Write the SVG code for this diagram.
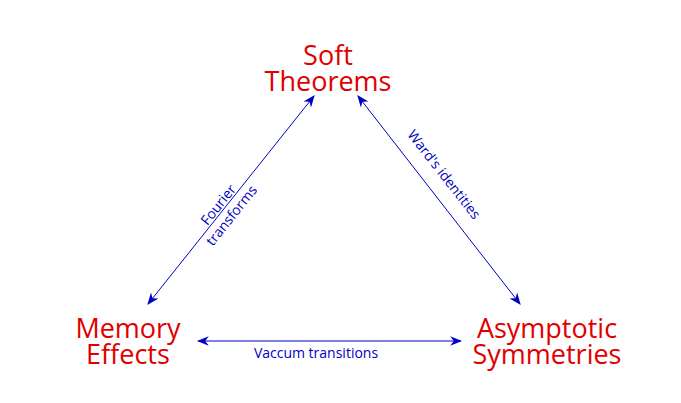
<svg xmlns="http://www.w3.org/2000/svg" width="681" height="403" viewBox="0 0 681 403">
<style>
.n{font-family:"Open Sans","DejaVu Sans",sans-serif;font-size:27px;fill:#e00000;text-anchor:middle}
.l{font-family:"Open Sans","DejaVu Sans",sans-serif;font-size:14px;fill:#0000c0;text-anchor:middle}
.c{stroke:#0000c0;stroke-width:1;fill:none;marker-start:url(#a);marker-end:url(#a)}
</style>
<defs><marker id="a" viewBox="0 0 10 10" refX="9" refY="5" markerWidth="12" markerHeight="12" markerUnits="userSpaceOnUse" orient="auto-start-reverse"><path d="M0,1 L10,5 L0,9 L3,5 Z" fill="#0000c0"/></marker></defs>
<rect width="681" height="403" fill="#fff"/>
<g id="soft"><text class="n" x="328" y="65">Soft</text><text class="n" x="328" y="91">Theorems</text></g>
<g id="memory"><text class="n" x="128" y="338">Memory</text><text class="n" x="128" y="364">Effects</text></g>
<g id="asym"><text class="n" x="547" y="338">Asymptotic</text><text class="n" x="547" y="364">Symmetries</text></g>
<g id="connectors">
<line class="c" x1="148" y1="304" x2="314" y2="96"/>
<line class="c" x1="358" y1="96" x2="520" y2="304"/>
<line class="c" x1="198" y1="341" x2="461" y2="341"/>
<g transform="translate(226,211) rotate(-51.4)"><text class="l" x="0" y="-5">Fourier</text><text class="l" x="0" y="12">transforms</text></g>
<g transform="translate(437,180) rotate(51.9)"><text class="l" x="0" y="-4">Ward's identities</text></g>
<text class="l" x="316" y="358">Vaccum transitions</text>
</g>
</svg>
